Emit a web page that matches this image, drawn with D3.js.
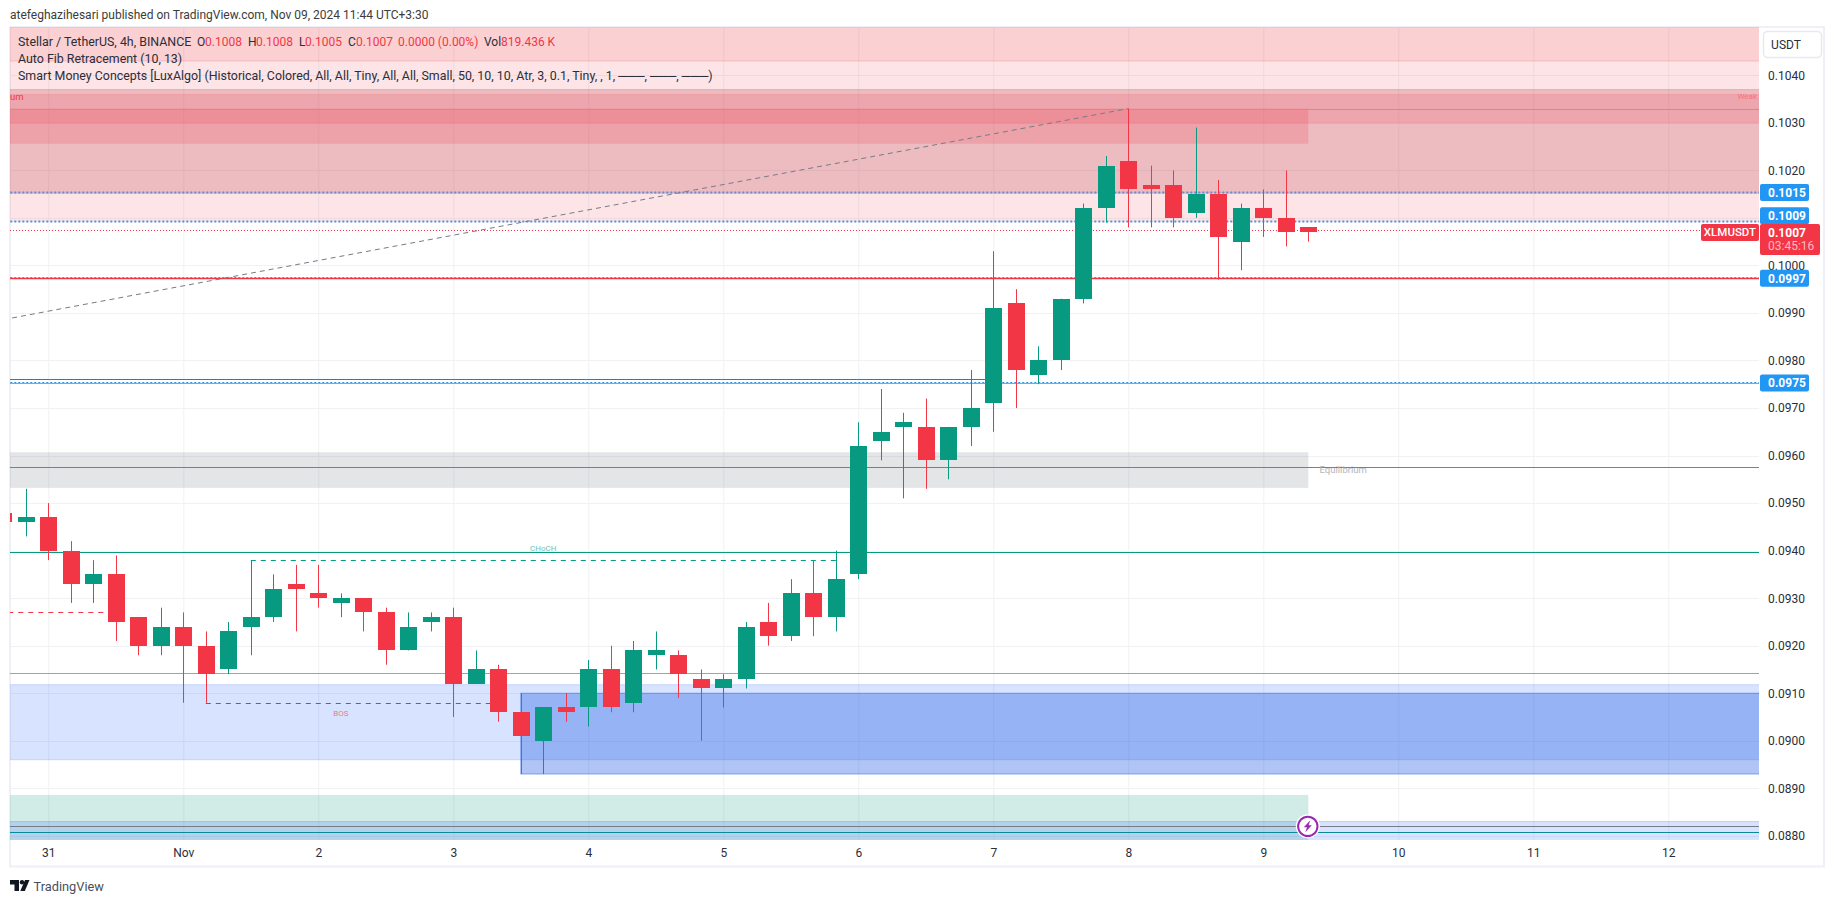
<!DOCTYPE html>
<html>
<head>
<meta charset="utf-8">
<script src="https://cdn.jsdelivr.net/npm/d3@7"></script>
<style>
  html, body { margin: 0; background: #fff; overflow: hidden; }
  text { font-family: Roboto, "Liberation Sans", sans-serif; }
  .domain { display: none; }
</style>
</head>
<body>
<div id="my_dataviz"></div>
<script>
// one row per 4h candle, oldest first
const opens = [.0948,.0946,.0947,.0940,.0933,.0935,.0926,.0920,.0924,.0920,.0915,.0924,.0926,.0933,.0931,.0929,.0930,.0927,.0919,.0925,
  .0926,.0912,.0915,.0906,.0900,.0907,.0907,.0915,.0908,.0918,.0918,.0913,.0911,.0913,.0925,.0922,.0931,.0926,.0935,.0963,
  .0966,.0966,.0959,.0966,.0971,.0992,.0977,.0980,.0993,.1012,.1022,.1017,.1017,.1011,.1015,.1005,.1012,.1010,.1008];
const highs = [.0948,.0953,.0950,.0942,.0938,.0939,.0926,.0928,.0927,.0923,.0925,.0938,.0935,.0937,.0937,.0931,.0930,.0928,.0927,.0927,
  .0928,.0919,.0916,.0910,.0907,.0910,.0917,.0920,.0921,.0923,.0919,.0915,.0914,.0925,.0929,.0934,.0938,.0940,.0967,.0974,
  .0969,.0972,.0966,.0978,.1003,.0995,.0983,.0993,.1013,.1023,.1033,.1021,.1020,.1029,.1018,.1013,.1016,.1020,.1008];
const lows = [.0946,.0943,.0938,.0929,.0929,.0921,.0918,.0918,.0908,.0908,.0914,.0918,.0925,.0923,.0928,.0926,.0923,.0916,.0919,.0923,
  .0905,.0912,.0904,.0893,.0893,.0904,.0903,.0906,.0906,.0915,.0909,.0900,.0907,.0911,.0920,.0921,.0922,.0923,.0934,.0959,
  .0951,.0953,.0955,.0962,.0965,.0970,.0975,.0978,.0992,.1009,.1008,.1008,.1008,.1010,.0997,.0999,.1006,.1004,.1005];
const closes = [.0946,.0947,.0940,.0933,.0935,.0925,.0920,.0924,.0920,.0914,.0923,.0926,.0932,.0932,.0930,.0930,.0927,.0919,.0924,.0926,
  .0912,.0915,.0906,.0901,.0907,.0906,.0915,.0907,.0919,.0919,.0914,.0911,.0913,.0924,.0922,.0931,.0926,.0934,.0962,.0965,
  .0967,.0959,.0966,.0970,.0991,.0978,.0980,.0993,.1012,.1021,.1016,.1016,.1010,.1015,.1006,.1012,.1010,.1007,.1007];

// candle index of each date label on the time axis
const dayIndex = [2, 8, 14, 20, 26, 32, 38, 44, 50, 56, 62, 68, 74];
const dayLabels = ["31", "Nov", "2", "3", "4", "5", "6", "7", "8", "9", "10", "11", "12"];
const priceTicks = [.1040, .1030, .1020, .1010, .1000, .0990, .0980, .0970, .0960, .0950, .0940, .0930, .0920, .0910, .0900, .0890, .0880];
const hiddenTicks = [.1010];

// zones: from index, to index (null = to the pane edge), top price, bottom price, colour
const zoneFrom = [-2, -2, -2, -2, -2, -2, 23, -2, -2, -2];
const zoneTo = [null, null, null, null, 58, null, null, 58, 58, null];
const zoneTop = [.1060, .1060, .1037, .1036, .1033, .09118, .0910, .09607, .08886, .0883];
const zoneBottom = [.1043, .10092, .10152, .1030, .10256, .0896, .0893, .09532, .0830, .0830];
const zoneFill = ["rgba(242,54,69,.12)", "rgba(242,54,69,.13)", "rgba(178,40,51,.21)", "rgba(242,54,69,.155)", "rgba(242,54,69,.2)",
  "rgba(41,98,255,.18)", "rgba(30,90,225,.35)", "rgba(120,123,134,.2)", "rgba(8,153,129,.19)", "rgba(41,98,255,.18)"];
const zoneEdge = ["rgba(242,54,69,.2)", "rgba(242,54,69,.05)", "rgba(178,40,51,.2)", "rgba(242,54,69,.12)", "none",
  "rgba(41,98,255,.18)", "rgba(30,90,225,.45)", "none", "none", "rgba(41,98,255,.25)"];

// lines: from index, to index, price, colour, width, dash
const lineFrom = [-2, -2, -2, -2, -2, -2, -2, 11, -2, 9, -2, -2, -2, -2, -2, -2];
const lineTo = [null, null, null, null, null, 44, null, 37, 5, 22, null, null, null, null, null, null];
const linePrice = [.1033, .10155, .10093, .09974, .09753, .09761, .09575, .0938, .0927, .0908, .09397, .09142, .09976, .09755, .0882, .08809];
const lineColor = ["#7ea6dc", "#5b8fd8", "#5b8fd8", "#f23645", "#7fb77e", "#089981", "#4ca34f", "#089981", "#f23645", "#b83f63", "#089981", "#6fb0ea", "#5b8fd8", "#2196f3", "#787b86", "#0a8a96"];
const lineWidth = [1, 2, 2, 1.3, 1, 1, 1, 1, 1, 1, 1.2, 1, 1, 1, 1, 1];
const lineDash = ["", "2 2", "2 2", "", "", "", "", "5 5", "5 5", "5 5", "", "", "2 2", "2 2", "", ""];

const bull = "#089981", bear = "#f23645";
const paneLeft = 10, paneRight = 1759, paneTop = 27, paneBottom = 840;

const svg = d3.select("#my_dataviz").append("svg").attr("width", 1835).attr("height", 903);

const x = d3.scaleLinear().domain([0, 58]).range([3.3, 1308.3]);
const y = d3.scaleLinear().domain([.1040, .0890]).range([75.3, 788.3]);

// header
svg.append("text").attr("x", 10).attr("y", 19).attr("font-size", 12).attr("fill", "#3c3c3c")
  .text("atefeghazihesari published on TradingView.com, Nov 09, 2024 11:44 UTC+3:30");

// frame
svg.append("rect").attr("x", 10).attr("y", 27).attr("width", 1814).attr("height", 839.5)
  .attr("fill", "#fff").attr("stroke", "#eff0f5").attr("stroke-width", 2);

svg.append("clipPath").attr("id", "pane").append("rect")
  .attr("x", paneLeft).attr("y", paneTop).attr("width", paneRight - paneLeft).attr("height", paneBottom - paneTop);
const pane = svg.append("g").attr("clip-path", "url(#pane)");

// grid
pane.selectAll(".gridx").data(dayIndex).join("line")
  .attr("x1", d => x(d) + .5).attr("x2", d => x(d) + .5).attr("y1", paneTop).attr("y2", paneBottom)
  .attr("stroke", "#f0f1f4");
pane.selectAll(".gridy").data(priceTicks).join("line")
  .attr("x1", paneLeft).attr("x2", paneRight).attr("y1", d => Math.round(y(d)) + .5).attr("y2", d => Math.round(y(d)) + .5)
  .attr("stroke", "#f0f1f4");

// zones
pane.selectAll(".zone").data(zoneTop).join("rect")
  .attr("x", (d, i) => x(zoneFrom[i]))
  .attr("width", (d, i) => (zoneTo[i] === null ? paneRight + 5 : x(zoneTo[i])) - x(zoneFrom[i]))
  .attr("y", d => y(d))
  .attr("height", (d, i) => y(zoneBottom[i]) - y(d))
  .attr("fill", (d, i) => zoneFill[i])
  .attr("stroke", (d, i) => zoneEdge[i]);

// levels
pane.selectAll(".level").data(linePrice).join("line")
  .attr("x1", (d, i) => x(lineFrom[i]))
  .attr("x2", (d, i) => lineTo[i] === null ? paneRight : x(lineTo[i]))
  .attr("y1", d => Math.round(y(d)) + .5).attr("y2", d => Math.round(y(d)) + .5)
  .attr("stroke", (d, i) => lineColor[i])
  .attr("stroke-width", (d, i) => lineWidth[i])
  .attr("stroke-dasharray", (d, i) => lineDash[i]);

// last price line
const lastPrice = .10074;
pane.append("line").attr("x1", paneLeft).attr("x2", paneRight)
  .attr("y1", Math.round(y(lastPrice)) + .5).attr("y2", Math.round(y(lastPrice)) + .5)
  .attr("stroke", bear).attr("stroke-dasharray", "1 2");

// fib trend line
const fibIndex = [0, 50], fibPrice = [.09886, .1033];
pane.append("path").datum(fibIndex)
  .attr("fill", "none").attr("stroke", "#787b86").attr("stroke-dasharray", "5 4")
  .attr("d", d3.line().x(d => x(d)).y((d, i) => y(fibPrice[i])));

// candles
const candles = opens.map((o, i) => ({ i, o, h: highs[i], l: lows[i], c: closes[i] }));
pane.selectAll(".wick").data(candles).join("line")
  .attr("x1", d => Math.round(x(d.i)) + .5).attr("x2", d => Math.round(x(d.i)) + .5)
  .attr("y1", d => y(d.h)).attr("y2", d => y(d.l))
  .attr("stroke", d => d.c >= d.o ? bull : bear);
pane.selectAll(".body").data(candles).join("rect")
  .attr("x", d => Math.round(x(d.i)) - 8).attr("width", 17)
  .attr("y", d => Math.round(y(Math.max(d.o, d.c))))
  .attr("height", d => Math.max(1, Math.round(y(Math.min(d.o, d.c))) - Math.round(y(Math.max(d.o, d.c)))))
  .attr("fill", d => d.c >= d.o ? bull : bear);

// small zone labels
const noteText = ["um", "Weak", "CHoCH", "BOS", "Equilibrium"];
const noteIndex = [-0.15, 77.3, 24, 15, 58.5];
const notePrice = [.10355, .10355, .09405, .09057, .0957];
const noteSize = [9.5, 8, 8, 8, 9.5];
const noteColor = ["#f23645", "#f7717c", "#6cc4b5", "#f0788a", "#b2b5be"];
const noteAnchor = ["start", "end", "middle", "middle", "start"];
svg.selectAll(".note").data(noteText).join("text")
  .attr("x", (d, i) => d === "Weak" ? 1757 : d === "um" ? 10 : x(noteIndex[i]))
  .attr("y", (d, i) => y(notePrice[i])).attr("dy", "0.35em")
  .attr("font-size", (d, i) => noteSize[i]).attr("text-anchor", (d, i) => noteAnchor[i])
  .attr("fill", (d, i) => noteColor[i]).text(d => d);

// lightning marker on the last candle
const bolt = svg.append("g").attr("transform", `translate(${x(58) - .5},${y(.0882)})`);
bolt.append("circle").attr("r", 12).attr("fill", "#fff");
bolt.append("circle").attr("r", 9.7).attr("fill", "#fff").attr("stroke", "#9c27b0").attr("stroke-width", 2);
bolt.append("path").attr("d", "M2.5,-6 L-4,1 L-0.8,1 L-2.5,6 L4,-1 L0.8,-1 Z").attr("fill", "#9c27b0");

// price axis
const priceAxis = d3.axisRight(y).tickValues(priceTicks.filter(d => !hiddenTicks.includes(d)))
  .tickSize(0).tickPadding(9).tickFormat(d3.format(".4f"));
svg.append("g").attr("transform", `translate(${paneRight},0)`).call(priceAxis)
  .call(g => g.selectAll("text").attr("font-size", 12).attr("fill", "#2a2e39").style("font-family", "Roboto"));

// blue level tags
const tagPrice = [.10155, .10093, .09976, .09755];
const tagText = ["0.1015", "0.1009", "0.0997", "0.0975"];
const tagShift = [.8, -5.6, 1.5, 1];
const tags = svg.selectAll(".tag").data(tagPrice).join("g")
  .attr("transform", (d, i) => `translate(${paneRight + 1},${y(d) + tagShift[i]})`);
tags.append("rect").attr("y", -8.5).attr("width", 49).attr("height", 17).attr("rx", 2).attr("fill", "#2196f3");
tags.append("text").attr("x", 8).attr("dy", "0.35em").attr("font-size", 12).attr("font-weight", 700).attr("fill", "#fff")
  .text((d, i) => tagText[i]);

// last price tag
const lastY = y(lastPrice);
svg.append("rect").attr("x", paneRight + 1).attr("y", lastY - 6.3).attr("width", 60).attr("height", 31).attr("rx", 2).attr("fill", bear);
svg.append("text").attr("x", paneRight + 9).attr("y", lastY + 2.2).attr("dy", "0.35em").attr("font-size", 12).attr("font-weight", 700).attr("fill", "#fff").text("0.1007");
svg.append("text").attr("x", paneRight + 9).attr("y", lastY + 16).attr("dy", "0.35em").attr("font-size", 12).attr("fill", "#ffb9bf").text("03:45:16");
svg.append("rect").attr("x", 1701).attr("y", lastY - 6.3).attr("width", 58).attr("height", 17).attr("rx", 2).attr("fill", bear);
svg.append("text").attr("x", 1730).attr("y", lastY + 2.2).attr("dy", "0.35em").attr("text-anchor", "middle").attr("font-size", 11.5).attr("font-weight", 500).attr("fill", "#fff").text("XLMUSDT");

// currency button
svg.append("rect").attr("x", 1763.5).attr("y", 31.5).attr("width", 58).attr("height", 26).attr("rx", 4).attr("fill", "#fff").attr("stroke", "#e8e9ee").attr("stroke-width", 1.5);
svg.append("text").attr("x", 1786).attr("y", 44.5).attr("dy", "0.35em").attr("text-anchor", "middle").attr("font-size", 12).attr("fill", "#2a2e39").text("USDT");

// time axis
const timeAxis = d3.axisBottom(x).tickValues(dayIndex).tickSize(0).tickPadding(8)
  .tickFormat((d, i) => dayLabels[i]);
svg.append("g").attr("transform", `translate(0,${paneBottom})`).call(timeAxis)
  .call(g => g.selectAll("text").attr("font-size", 12).attr("fill", "#2a2e39").style("font-family", "Roboto"));

// legend
const legendRows = ["Stellar / TetherUS, 4h, BINANCE", "Auto Fib Retracement (10, 13)",
  "Smart Money Concepts [LuxAlgo] (Historical, Colored, All, All, Tiny, All, All, Small, 50, 10, 10, Atr, 3, 0.1, Tiny, , 1, ───, ───, ───)"];
svg.selectAll(".legend").data(legendRows).join("text")
  .attr("x", 18).attr("y", (d, i) => 46 + i * 17.2).attr("font-size", 12.4).attr("fill", "#2a2e39").text(d => d);
const quoteText = ["O", "0.1008", "H", "0.1008", "L", "0.1005", "C", "0.1007", "0.0000 (0.00%)", "Vol", "819.436 K"];
const quoteX = [197, 205, 248, 256, 299, 305, 348, 356, 398, 484, 501];
svg.selectAll(".quote").data(quoteText).join("text")
  .attr("x", (d, i) => quoteX[i]).attr("y", 46).attr("font-size", 12)
  .attr("fill", (d, i) => ["O", "H", "L", "C", "Vol"].includes(d) ? "#2a2e39" : bear).text(d => d);

// brand
const logo = svg.append("g").attr("transform", "translate(10,880)").attr("fill", "#131722");
logo.append("path").attr("d", "M0,0 H9 V11 H4.5 V4.5 H0 Z");
logo.append("circle").attr("cx", 12).attr("cy", 2.2).attr("r", 2.2);
logo.append("path").attr("d", "M15,0 H19.5 L14.8,11 H10.3 Z");
svg.append("text").attr("x", 33.5).attr("y", 890.5).attr("font-size", 12.8).attr("fill", "#4a4f5c").text("TradingView");
</script>
</body>
</html>
